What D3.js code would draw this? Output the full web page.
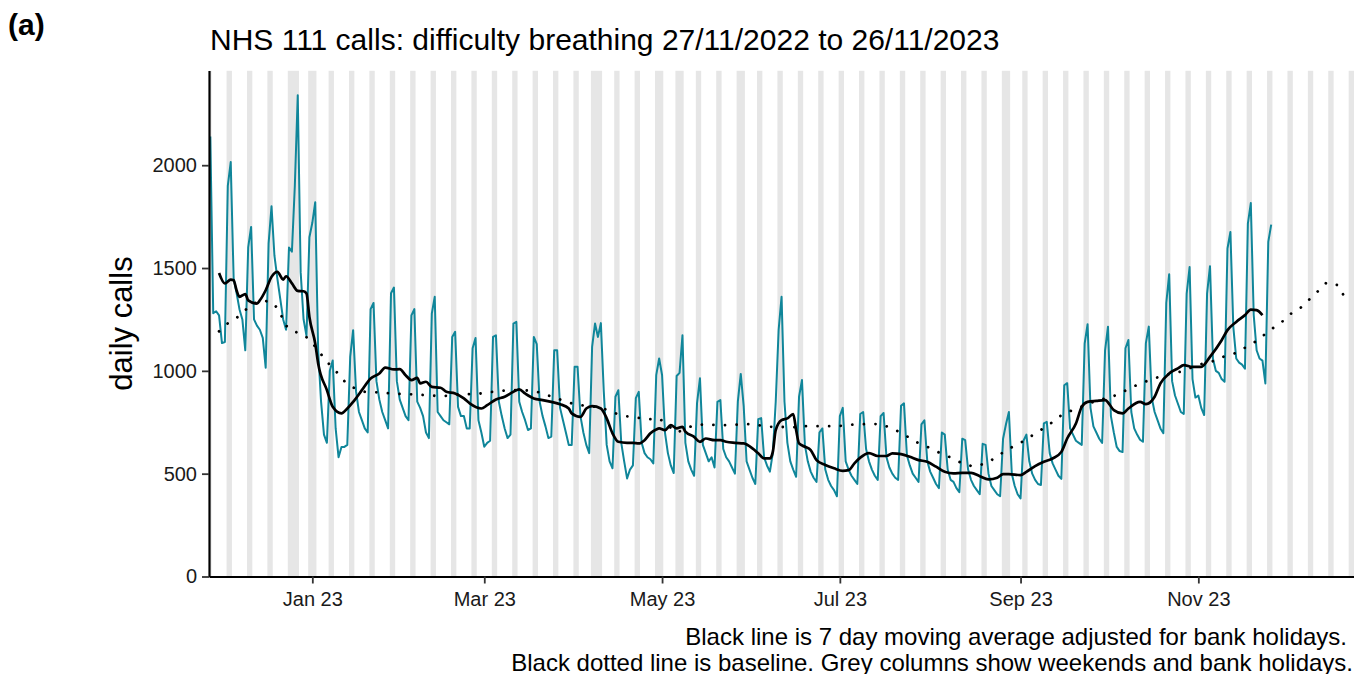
<!DOCTYPE html>
<html>
<head>
<meta charset="utf-8">
<script src="https://cdn.jsdelivr.net/npm/d3@7"></script>
<style>
  body { margin: 0; background: #ffffff; }
  #grafico { width: 1354px; height: 674px; }
  svg text { font-family: "Liberation Sans", Arial, sans-serif; }
</style>
</head>
<body>
<div id="grafico"></div>
<script>
// first day of the daily series
var startDate = "2022-11-27";

// daily calls, Sun 27/11/2022 then one week (Mon..Sun) per line
var dailyCalls = [2140,
  1280, 1290, 1270, 1135, 1140, 1900, 2015,
  1450, 1380, 1300, 1250, 1100, 1600, 1700,
  1250, 1220, 1200, 1160, 1015, 1620, 1800,
  1560, 1450, 1350, 1250, 1200, 1600, 1580,
  1900, 2340, 1480, 1250, 1170, 1650, 1720,
  1820, 1100, 850, 690, 650, 1000, 1050,
  720, 580, 630, 630, 640, 1068, 1198,
  900, 800, 760, 720, 700, 1300, 1330,
  950, 860, 800, 760, 720, 1377, 1405,
  950, 860, 820, 780, 760, 1270, 1300,
  850, 820, 780, 700, 673, 1279, 1360,
  800, 780, 760, 750, 740, 1165, 1190,
  825, 780, 780, 720, 720, 1110, 1160,
  760, 700, 631, 650, 660, 1165, 1173,
  850, 780, 720, 673, 690, 1230, 1238,
  850, 800, 760, 712, 720, 1165, 1130,
  850, 780, 730, 673, 680, 1100, 1100,
  820, 760, 700, 639, 640, 1020, 1020,
  780, 700, 640, 600, 1117, 1230, 1165,
  1232, 900, 640, 560, 526, 874, 906,
  650, 560, 477, 520, 540, 867, 898,
  650, 600, 580, 570, 550, 979, 1060,
  980, 700, 600, 540, 503, 975, 990,
  1173, 650, 560, 520, 490, 843, 964,
  640, 600, 560, 580, 530, 849, 858,
  620, 580, 560, 530, 500, 850, 985,
  830, 560, 520, 480, 450, 765, 770,
  580, 540, 510, 600, 850, 1200, 1360,
  850, 650, 560, 520, 485, 874, 955,
  640, 560, 510, 480, 460, 700, 720,
  520, 470, 440, 420, 390, 780, 820,
  560, 520, 490, 470, 450, 790, 800,
  620, 560, 520, 490, 470, 780, 795,
  580, 530, 500, 480, 470, 830, 842,
  590, 540, 500, 480, 460, 740, 760,
  560, 510, 480, 450, 430, 700, 690,
  520, 470, 460, 430, 410, 670, 663,
  520, 470, 440, 420, 400, 645, 640,
  500, 440, 420, 400, 390, 670, 740,
  800, 500, 440, 400, 380, 660, 690,
  560, 500, 470, 450, 445, 745, 752,
  600, 550, 520, 490, 475, 930, 940,
  720, 690, 660, 650, 640, 1133, 1227,
  820, 730, 700, 670, 650, 1100, 1215,
  780, 700, 630, 610, 605, 1110, 1150,
  800, 720, 690, 665, 655, 1135, 1215,
  870, 800, 760, 720, 697, 1330, 1470,
  950, 880, 840, 800, 790, 1376, 1505,
  960, 870, 880, 820, 785, 1376, 1509,
  1060, 1000, 990, 960, 947, 1595, 1675,
  1214, 1060, 1040, 1030, 1010, 1716, 1816,
  1271, 1100, 1060, 1050, 939, 1627, 1711];

// 7 day moving average (days after startDate, value)
var maDays = [3, 5, 7, 8, 9, 10, 12, 13, 16, 17, 19, 21, 23, 25, 26, 28, 30, 32, 33, 34,
  36, 37, 40, 42, 45, 47, 49, 52, 55, 58, 60, 63, 65, 67, 69, 71, 72, 74, 76, 79,
  81, 84, 87, 89, 93, 95, 98, 101, 104, 106, 108, 111, 114, 117, 120, 123, 124, 127, 129, 131,
  134, 136, 138, 140, 143, 145, 147, 149, 151, 153, 154, 156, 158, 160, 162, 163, 166, 168, 170, 173,
  175, 177, 180, 183, 186, 188, 190, 192, 193, 194, 196, 198, 200, 201, 202, 204, 206, 208, 211, 214,
  217, 219, 221, 223, 226, 229, 232, 234, 237, 240, 243, 246, 249, 252, 255, 258, 261, 264, 267, 270,
  272, 274, 278, 280, 283, 286, 289, 292, 294, 297, 299, 301, 304, 307, 310, 313, 315, 319, 321, 324,
  326, 329, 332, 334, 337, 340, 343, 347, 349, 352, 355, 357, 359, 361];
var maValues = [1476, 1425, 1444, 1441, 1392, 1360, 1373, 1343, 1327, 1343, 1392, 1457, 1481, 1444, 1460, 1425, 1389, 1387, 1376, 1262,
  1133, 1036, 906, 825, 793, 817, 849, 906, 963, 987, 1016, 1007, 1008, 979, 955, 966, 939, 947, 922, 918,
  898, 890, 866, 842, 817, 833, 861, 874, 898, 910, 890, 866, 858, 849, 838, 817, 793, 776, 817, 828,
  817, 769, 696, 655, 650, 650, 647, 663, 696, 715, 720, 712, 736, 720, 728, 704, 679, 655, 671, 663,
  663, 655, 650, 647, 623, 599, 574, 574, 606, 712, 760, 769, 790, 712, 647, 631, 615, 566, 542, 526,
  514, 517, 550, 578, 600, 586, 586, 599, 595, 582, 566, 558, 534, 509, 501, 504, 504, 488, 472, 480,
  498, 498, 493, 509, 537, 558, 574, 606, 671, 744, 825, 849, 854, 858, 809, 793, 817, 849, 838, 874,
  939, 987, 1012, 1028, 1019, 1019, 1068, 1149, 1198, 1238, 1271, 1298, 1295, 1271];

// baseline (days after startDate, value)
var baseDays = [3, 6, 10, 13, 17, 21, 24, 25, 27, 29, 32, 35, 40, 43, 46, 49, 53, 58, 62, 67,
  71, 75, 80, 84, 89, 93, 97, 102, 106, 111, 115, 119, 123, 127, 134, 138, 142, 146, 151, 154,
  160, 166, 170, 174, 178, 182, 186, 191, 195, 199, 204, 208, 213, 217, 221, 226, 230, 234, 238, 242,
  246, 250, 254, 258, 262, 266, 270, 273, 277, 280, 284, 288, 291, 295, 303, 307, 311, 315, 319, 323,
  327, 332, 340, 344, 348, 352, 356, 360, 363, 367, 370, 374, 380, 383, 387, 389];
var baseValues = [1192, 1231, 1267, 1309, 1343, 1335, 1290, 1233, 1207, 1190, 1178, 1136, 1044, 1000, 950, 919, 898, 895, 890, 887,
  885, 880, 877, 885, 887, 890, 898, 906, 906, 903, 885, 866, 845, 833, 822, 798, 781, 773, 765, 769,
  700, 736, 740, 736, 736, 740, 741, 728, 728, 725, 731, 731, 731, 733, 740, 741, 741, 720, 691, 655,
  631, 603, 579, 550, 534, 550, 582, 615, 642, 667, 704, 740, 776, 804, 849, 866, 882, 911, 939, 958,
  979, 992, 1033, 1047, 1071, 1087, 1121, 1153, 1194, 1228, 1271, 1306, 1387, 1430, 1416, 1363];

var bankHolidays = ["2022-12-26", "2022-12-27", "2023-01-02", "2023-04-07", "2023-04-10",
  "2023-05-01", "2023-05-08", "2023-05-29", "2023-08-28", "2023-12-25", "2023-12-26"];

var yTicks = [0, 500, 1000, 1500, 2000];

var titulo = "NHS 111 calls: difficulty breathing 27/11/2022 to 26/11/2023";
var rodape = ["Black line is 7 day moving average adjusted for bank holidays.",
  "Black dotted line is baseline. Grey columns show weekends and bank holidays."];

function monta_grafico() {

  var W = 1354, H = 674;
  var margin = {top: 70.6, left: 209, bottom: 576.5, right: 1354};

  var parseDay = d3.utcParse("%Y-%m-%d");
  var inicio = parseDay(startDate);
  function dia(n) { return new Date(inicio.getTime() + n * 86400000); }

  var x = d3.scaleUtc()
    .domain([dia(-0.45), dia(392.41)])
    .range([margin.left, margin.right]);
  var y = d3.scaleLinear()
    .domain([0, 2460])
    .range([margin.bottom, margin.top]);

  var svg = d3.select("#grafico").append("svg")
    .attr("width", W)
    .attr("height", H);

  // grey columns: weekends and bank holidays
  var feriados = {};
  bankHolidays.forEach(function(s) { feriados[s] = true; });
  var fmt = d3.utcFormat("%Y-%m-%d");
  var colunas = [];
  var atual = null;
  for (var n = -1; n <= 393; n++) {
    var dd = dia(n);
    var cinza = dd.getUTCDay() == 0 || dd.getUTCDay() == 6 || feriados[fmt(dd)];
    if (cinza) {
      if (atual && atual.fim == n - 1) atual.fim = n;
      else { atual = {ini: n, fim: n}; colunas.push(atual); }
    }
  }

  svg.append("defs").append("clipPath").attr("id", "painel")
    .append("rect")
    .attr("x", margin.left).attr("y", margin.top)
    .attr("width", margin.right - margin.left)
    .attr("height", margin.bottom - margin.top);

  var g = svg.append("g").attr("clip-path", "url(#painel)");

  g.selectAll("rect.col")
    .data(colunas)
    .enter().append("rect")
    .attr("class", "col")
    .attr("x", function(c) { return x(dia(c.ini - 0.42)); })
    .attr("width", function(c) { return x(dia(c.fim + 0.42)) - x(dia(c.ini - 0.42)); })
    .attr("y", margin.top)
    .attr("height", margin.bottom - margin.top)
    .style("fill", "#e6e6e6");

  // daily calls
  var serie = dailyCalls.map(function(v, i) { return {d: i, v: v}; });
  var linha = d3.line()
    .x(function(p) { return x(dia(p.d)); })
    .y(function(p) { return y(p.v); });

  g.append("path")
    .datum(serie)
    .attr("d", linha)
    .style("fill", "none")
    .style("stroke", "#10869a")
    .style("stroke-width", 2)
    .style("stroke-linejoin", "round");

  // baseline, dotted
  var base = baseDays.map(function(d, i) { return {d: d, v: baseValues[i]}; });
  g.append("path")
    .datum(base)
    .attr("d", linha)
    .style("fill", "none")
    .style("stroke", "#000")
    .style("stroke-width", 2.8)
    .style("stroke-linecap", "round")
    .style("stroke-dasharray", "0.01, 11.6");

  // moving average
  var media = maDays.map(function(d, i) { return {d: d, v: maValues[i]}; });
  g.append("path")
    .datum(media)
    .attr("d", linha.curve(d3.curveMonotoneX))
    .style("fill", "none")
    .style("stroke", "#000")
    .style("stroke-width", 2.7)
    .style("stroke-linejoin", "round");

  // y axis
  var eixoY = svg.append("g")
    .attr("transform", "translate(" + margin.left + ",0)")
    .call(d3.axisLeft(y).tickValues(yTicks).tickFormat(d3.format("d"))
      .tickSize(7).tickSizeOuter(0).tickPadding(5));
  eixoY.select(".domain").style("stroke", "#000").style("stroke-width", 2.2);
  eixoY.selectAll(".tick line").style("stroke", "#333").style("stroke-width", 1.8);
  eixoY.selectAll(".tick text").style("font-size", "20px").style("fill", "#1a1a1a");

  // x axis
  var eixoX = svg.append("g")
    .attr("transform", "translate(0," + margin.bottom + ")")
    .call(d3.axisBottom(x)
      .ticks(d3.utcMonth.every(2))
      .tickFormat(d3.utcFormat("%b %y"))
      .tickSize(7).tickSizeOuter(0).tickPadding(8));
  eixoX.select(".domain").style("stroke", "#000").style("stroke-width", 2.2);
  eixoX.selectAll(".tick line").style("stroke", "#333").style("stroke-width", 1.8);
  eixoX.selectAll(".tick text").style("font-size", "20px").style("fill", "#1a1a1a");

  // texts
  svg.append("text")
    .attr("x", 8).attr("y", 35)
    .style("font-size", "30px").style("font-weight", "bold")
    .text("(a)");

  svg.append("text")
    .attr("x", 210).attr("y", 50)
    .style("font-size", "30px")
    .text(titulo);

  svg.append("text")
    .attr("transform", "translate(132," + ((margin.top + margin.bottom) / 2) + ") rotate(-90)")
    .attr("text-anchor", "middle")
    .style("font-size", "31px")
    .text("daily calls");

  svg.selectAll("text.cap")
    .data(rodape)
    .enter().append("text")
    .attr("class", "cap")
    .attr("x", function(t, i) { return i == 0 ? 1347 : 1353; })
    .attr("y", function(t, i) { return 645 + i * 25.5; })
    .attr("text-anchor", "end")
    .style("font-size", "24px")
    .text(function(t) { return t; });
}

monta_grafico();
</script>
</body>
</html>
